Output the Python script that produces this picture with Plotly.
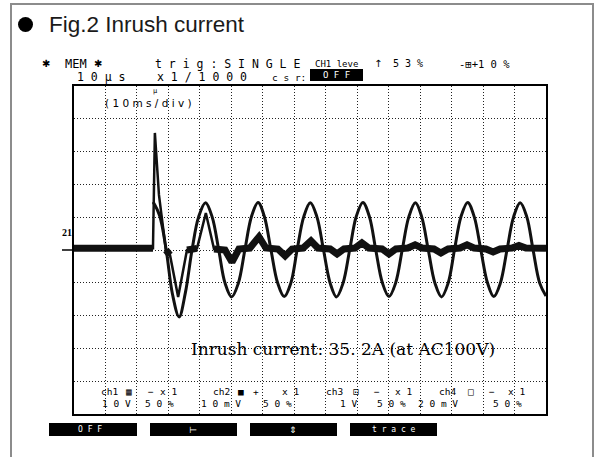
import plotly.graph_objects as go

# ---- data (time in ms, amplitude in divisions) ----
volt_t = [25.15, 27.2, 29.3, 31.3, 33.4, 35.4, 37.5, 39.6, 41.8,
          43.9, 46.0, 48.0, 50.1, 52.2, 54.3, 56.4, 58.5,
          60.5, 62.6, 64.7, 66.8, 68.9, 70.9, 73.0, 75.1,
          77.2, 79.3, 81.4, 83.4, 85.5, 87.6, 89.7, 91.8,
          93.9, 95.9, 98.0, 100.1, 102.2, 104.3, 106.4, 108.5,
          110.5, 112.6, 114.7, 116.8, 118.9, 120.9, 123.0, 125.1,
          127.2, 129.3, 131.4, 133.4, 135.5, 137.6, 139.7, 141.8,
          143.9, 145.9, 148.0, 150.0]
volt_v = [1.46, 1.05, 0.0, -1.35, -2.04, -1.30, 0.0, 1.01, 1.44,
          1.01, 0.0, -1.01, -1.43, -1.02, 0.0, 1.02, 1.45,
          1.02, 0.0, -1.00, -1.42, -1.01, 0.0, 1.01, 1.44,
          1.01, 0.0, -1.01, -1.43, -1.01, 0.0, 1.02, 1.45,
          1.01, 0.0, -1.00, -1.42, -1.01, 0.0, 1.01, 1.44,
          1.01, 0.0, -1.01, -1.43, -1.01, 0.0, 1.02, 1.45,
          1.01, 0.0, -1.00, -1.42, -1.01, 0.0, 1.01, 1.44,
          1.01, 0.0, -1.01, -1.40]

curr_t = [0, 25.1, 25.7, 27.0, 29.2, 30.5, 33.1, 35.9, 39.1, 41.9,
          44.5, 48.0, 50.2, 52.4, 55.9, 58.8, 61.0, 64.8, 67.1, 69.3,
          72.8, 75.3, 77.5, 81.4, 83.6, 85.8, 89.3, 91.5, 93.7, 97.9,
          100.1, 102.3, 106.1, 108.4, 110.6, 114.4, 116.6, 118.9, 122.7, 124.9,
          127.1, 130.9, 133.2, 135.4, 139.2, 141.4, 143.6, 150.0]
curr_i = [0.05, 0.05, 3.57, 1.68, 0.0, -0.15, -1.43, 0.0, 0.05, 1.13,
          0.03, 0.0, -0.37, 0.03, 0.06, 0.40, 0.06, 0.03, -0.18, 0.03,
          0.06, 0.28, 0.06, 0.03, -0.12, 0.03, 0.06, 0.22, 0.06, 0.03,
          -0.12, 0.03, 0.06, 0.16, 0.06, 0.03, -0.09, 0.03, 0.06, 0.16,
          0.06, 0.03, -0.06, 0.03, 0.06, 0.14, 0.06, 0.05]

title_text = "Fig.2 Inrush current"
note_text = "Inrush current: 35. 2A (at AC100V)"

# ---- geometry helpers (pixel -> paper) ----
L, R, T, B = 74, 546, 86, 414
def px(x):
    return (x - L) / (R - L)
def py(y):
    return (B - y) / (B - T)

fig = go.Figure()

# noisy current baseline (thick band where the current is small)
band = [v if abs(v) < 0.5 else None for v in curr_i]
fig.add_trace(go.Scatter(x=curr_t, y=band, mode="lines", connectgaps=False,
                         line=dict(color="#111", width=7), hoverinfo="skip"))
fig.add_trace(go.Scatter(x=curr_t, y=curr_i, mode="lines",
                         line=dict(color="#111", width=2.5), hoverinfo="skip"))
fig.add_trace(go.Scatter(x=volt_t, y=volt_v, mode="lines",
                         line=dict(color="#111", width=3, shape="spline", smoothing=1),
                         hoverinfo="skip"))

shapes = []
# outer gray frame
shapes.append(dict(type="rect", xref="paper", yref="paper",
                   x0=px(11), x1=px(593), y0=py(470), y1=py(4),
                   line=dict(color="#8c8c8c", width=2), fillcolor="rgba(0,0,0,0)", layer="below"))
# bullet
shapes.append(dict(type="circle", xref="paper", yref="paper",
                   x0=px(18), x1=px(33), y0=py(32), y1=py(17),
                   line=dict(color="black", width=0), fillcolor="black"))
# channel reference marker
shapes.append(dict(type="line", xref="paper", yref="paper",
                   x0=px(62), x1=px(74), y0=py(250), y1=py(250),
                   line=dict(color="black", width=1.5)))
# csr OFF box
shapes.append(dict(type="rect", xref="paper", yref="paper",
                   x0=px(310), x1=px(363), y0=py(81), y1=py(69),
                   line=dict(width=0), fillcolor="black"))
# soft-key buttons
for x0, x1 in [(49, 137), (150, 237), (250, 337), (350, 437)]:
    shapes.append(dict(type="rect", xref="paper", yref="paper",
                       x0=px(x0), x1=px(x1), y0=py(436), y1=py(423),
                       line=dict(width=0), fillcolor="black"))

anns = []
def ann(x, y, text, size, family="DejaVu Sans Mono", color="black", anchor="left"):
    anns.append(dict(x=px(x), y=py(y), xref="paper", yref="paper", text=text,
                     showarrow=False, xanchor=anchor, yanchor="middle",
                     font=dict(size=size, family=family, color=color)))

ann(47, 25, title_text, 22.5, family="Liberation Sans", color="#1a1a1a")

# header row 1
ann(40, 64, "✱", 10, family="DejaVu Sans")
ann(63, 64, "MEM", 12)
ann(92, 64, "✱", 10, family="DejaVu Sans")
ann(153, 64, "t r i g : S I N G L E", 11.5)
ann(313, 64, "CH1 leve", 9)
ann(372, 64, "↑", 10, family="DejaVu Sans")
ann(391, 64, "5 3 %", 10)
ann(457, 64, "-⊞+1 0 %", 10.5)
# header row 2
ann(75, 77, "1 0 μ s", 11.5)
ann(155, 77, "x 1 / 1 0 0 0", 11.5)
ann(270, 77, "c s r:", 9.5)
ann(336.5, 75, "O F F", 9, color="white", anchor="center")

# inside screen
ann(103, 103, "( 1 0 m s / d i v )", 10.5, family="DejaVu Sans")
ann(155, 91, "µ", 7, family="DejaVu Sans Mono", anchor="center")
ann(60, 233, "<b>21</b>", 10, family="Liberation Serif")
ann(189, 349, note_text, 17, family="DejaVu Serif")

# channel labels row a
for x, t in [(99, "ch1"), (124, "▦"), (146, "−"), (158, "x 1"),
             (211, "ch2"), (236, "■"), (251, "+"), (280, "x 1"),
             (324, "ch3"), (351, "⊡"), (372, "−"), (393, "x 1"),
             (437, "ch4"), (466, "□"), (487, "−"), (506, "x 1")]:
    ann(x, 391, t, 9.5)
# row b
for x, t in [(100, "1 0 V"), (143, "5 0 %"), (199, "1 0 m V"), (261, "5 0 %"),
             (338, "1 V"), (375, "5 0 %"), (416, "2 0 m V"), (491, "5 0 %")]:
    ann(x, 403, t, 9.5)

# soft-key labels
ann(90, 429.5, "O F F", 8, color="white", anchor="center")
ann(193, 429.5, "⊢", 9, family="DejaVu Sans", color="white", anchor="center")
ann(293, 429.5, "⇕", 9, family="DejaVu Sans", color="white", anchor="center")
ann(394, 429.5, "t r a c e", 8, color="white", anchor="center")

fig.update_layout(width=599, height=457, margin=dict(l=L, r=599 - R, t=T, b=457 - B),
                  paper_bgcolor="white", plot_bgcolor="white", showlegend=False,
                  shapes=shapes, annotations=anns)
axis_common = dict(showticklabels=False, ticks="", showgrid=True, gridcolor="#222",
                   gridwidth=1, griddash="1px,2px", zeroline=False, showline=True,
                   linecolor="black", linewidth=1.5, mirror=True, fixedrange=True)
fig.update_xaxes(range=[0, 150], tick0=0, dtick=10, **axis_common)
fig.update_yaxes(range=[-5, 5], tick0=0, dtick=1, **axis_common)

fig.write_html("out.html", config={"displayModeBar": False},
               post_script="document.body.style.margin='0';document.body.style.overflow='hidden';")
